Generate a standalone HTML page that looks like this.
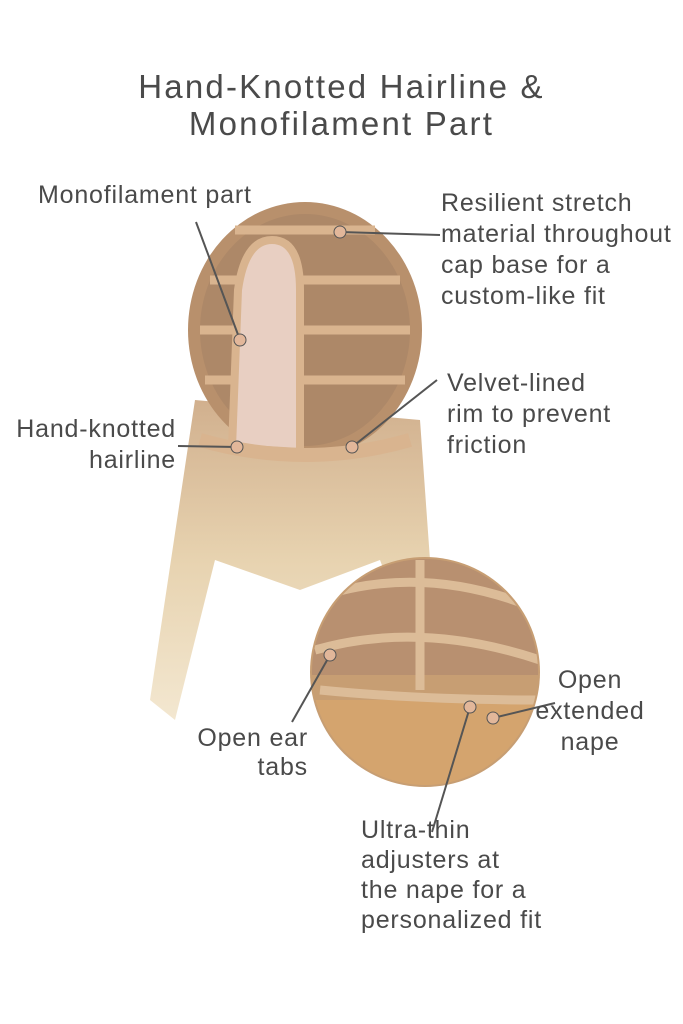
<!DOCTYPE html>
<html><head><meta charset="utf-8"><style>
html,body{margin:0;padding:0;background:#fff;}
body{width:683px;height:1024px;position:relative;overflow:hidden;font-family:"Liberation Sans",sans-serif;color:#4a4a4a;}
.t{position:absolute;font-size:25px;letter-spacing:0.8px;line-height:31px;white-space:nowrap;}
</style></head><body>
<svg width="683" height="1024" style="position:absolute;left:0;top:0">
<defs>
<linearGradient id="hair" x1="0" y1="0" x2="0" y2="1">
<stop offset="0" stop-color="#c9a27a"/><stop offset="0.5" stop-color="#e3cba2"/><stop offset="1" stop-color="#f1e3c8"/></linearGradient>
<clipPath id="cc"><circle cx="425" cy="672" r="113"/></clipPath>
</defs>
<path d="M195 400 L150 700 L175 720 L215 560 L300 590 L380 560 L395 600 L430 560 L420 420 Z" fill="url(#hair)" opacity="0.85"/>
<ellipse cx="305" cy="330" rx="117" ry="128" fill="#b8906c"/>
<ellipse cx="305" cy="330" rx="105" ry="116" fill="#a88466" opacity="0.7"/>
<g stroke="#d9b48f" stroke-width="9" fill="none">
<path d="M210 280 L400 280"/><path d="M200 330 L410 330"/><path d="M205 380 L405 380"/><path d="M235 230 L375 230"/>
</g>
<path d="M232 448 L238 290 Q245 240 272 240 Q300 240 300 290 L300 452 Z" fill="#e8cfc2" stroke="#d9b48f" stroke-width="8"/>
<path d="M200 440 Q305 470 410 440" stroke="#d9b48f" stroke-width="14" fill="none"/>
<circle cx="425" cy="672" r="115" fill="#c79e73"/>
<g clip-path="url(#cc)">
<rect x="300" y="555" width="250" height="120" fill="#b89070"/>
<rect x="300" y="700" width="250" height="100" fill="#d4a46e"/>
<g stroke="#dcbc98" stroke-width="9" fill="none">
<path d="M310 600 Q420 560 540 610"/><path d="M315 650 Q420 620 540 660"/><path d="M320 690 Q420 700 540 700"/><path d="M420 560 L420 690"/>
</g>
</g>
<g stroke="#555" stroke-width="2" fill="none">
<line x1="196" y1="222" x2="240" y2="340"/>
<line x1="440" y1="235" x2="340" y2="232"/>
<line x1="437" y1="380" x2="352" y2="447"/>
<line x1="178" y1="446" x2="237" y2="447"/>
<line x1="330" y1="655" x2="292" y2="722"/>
<line x1="555" y1="703" x2="493" y2="718"/>
<line x1="432" y1="832" x2="470" y2="707"/>
</g>
<g fill="#e2b79a" stroke="#555" stroke-width="1">
<circle cx="240" cy="340" r="6"/><circle cx="340" cy="232" r="6"/><circle cx="352" cy="447" r="6"/><circle cx="237" cy="447" r="6"/><circle cx="330" cy="655" r="6"/><circle cx="493" cy="718" r="6"/><circle cx="470" cy="707" r="6"/>
</g>
</svg>
<div class="t" style="left:0;width:683px;text-align:center;top:68px;font-size:33px;letter-spacing:2.2px;line-height:37px;">Hand-Knotted Hairline &amp;<br>Monofilament Part</div>
<div class="t" style="left:38px;top:180px;">Monofilament part</div>
<div class="t" style="left:441px;top:188px;">Resilient stretch<br>material throughout<br>cap base for a<br>custom-like fit</div>
<div class="t" style="left:447px;top:368px;">Velvet-lined<br>rim to prevent<br>friction</div>
<div class="t" style="right:507px;top:414px;text-align:right;">Hand-knotted<br>hairline</div>
<div class="t" style="right:375px;top:724px;text-align:right;line-height:29px;">Open ear<br>tabs</div>
<div class="t" style="left:535px;width:110px;top:665px;text-align:center;">Open<br>extended<br>nape</div>
<div class="t" style="left:361px;top:815px;line-height:30px;">Ultra-thin<br>adjusters at<br>the nape for a<br>personalized fit</div>
</body></html>
